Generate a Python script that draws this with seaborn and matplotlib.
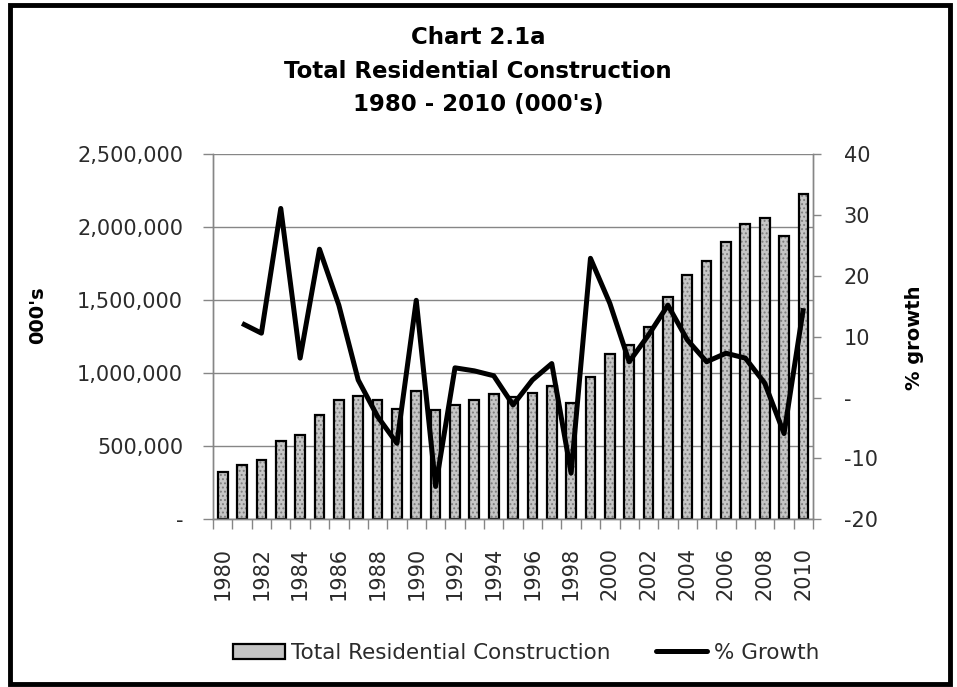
import numpy as np
import pandas as pd
import matplotlib
matplotlib.use("Agg")
import matplotlib.pyplot as plt
import seaborn as sns
from matplotlib.ticker import FuncFormatter, FixedLocator
from matplotlib.patches import Patch, Rectangle
from matplotlib.lines import Line2D

# ---------------- data ----------------
years = [1980, 1981, 1982, 1983, 1984, 1985, 1986, 1987, 1988, 1989,
         1990, 1991, 1992, 1993, 1994, 1995, 1996, 1997, 1998, 1999,
         2000, 2001, 2002, 2003, 2004, 2005, 2006, 2007, 2008, 2009, 2010]
construction = [326000, 372000, 406000, 538000, 575000, 712000, 819000, 847000,
                819000, 758000, 881000, 749000, 783000, 819000, 856000, 838000,
                863000, 915000, 799000, 977000, 1134000, 1194000, 1317000,
                1523000, 1671000, 1767000, 1897000, 2020000, 2066000, 1943000,
                2226000]
growth = [np.nan, 12.2, 10.6, 31.1, 6.5, 24.4, 15.2, 2.9, -3.1, -7.5, 16.0,
          -14.6, 4.9, 4.4, 3.6, -1.2, 2.9, 5.6, -12.4, 22.9, 15.5, 5.9, 10.3,
          15.2, 9.5, 5.9, 7.3, 6.5, 2.4, -5.9, 14.7]
left_ticks = [0, 500000, 1000000, 1500000, 2000000, 2500000]
right_ticks = [-20, -10, 0, 10, 20, 30, 40]
title_lines = ["Chart 2.1a", "Total Residential Construction", "1980 - 2010 (000's)"]
bar_label = "Total Residential Construction"
line_label = "% Growth"

df = pd.DataFrame({"year": [str(y) for y in years],
                   "construction": construction,
                   "growth": growth})
df["pos"] = np.arange(len(df))

# ---------------- style ----------------
sns.set_theme(style="white")
plt.rcParams["font.family"] = ["DejaVu Sans"]
plt.rcParams["hatch.linewidth"] = 0.9
GRID = "#868686"
TXT = "#2b2b2b"

fig = plt.figure(figsize=(9.57, 6.87), dpi=100)
fig.patch.set_facecolor("white")
ax = fig.add_axes([0.2226, 0.2441, 0.6270, 0.5313])

# bars: textured grey fill, then black outline
sns.barplot(data=df, x="year", y="construction", ax=ax, color="#c6c6c6",
            width=0.5, edgecolor="#7d7d7d", linewidth=0, hatch="....",
            saturation=1, errorbar=None)
sns.barplot(data=df, x="year", y="construction", ax=ax, color="black",
            width=0.5, fill=False, linewidth=1.6, errorbar=None)

ax.set_xlim(-0.5, len(years) - 0.5)
ax.set_ylim(0, 2500000)
ax.yaxis.set_major_locator(FixedLocator(left_ticks))
ax.yaxis.set_major_formatter(FuncFormatter(lambda v, p: "-" if v == 0 else f"{v:,.0f}"))
ax.grid(axis="y", color=GRID, linewidth=1)
ax.set_axisbelow(True)

# x axis: labels every 2 years, ticks between categories
ax.set_xticks(df["pos"][::2])
ax.set_xticklabels(df["year"][::2], rotation=90)
ax.set_xticks(np.arange(-0.5, len(years), 1.0), minor=True)
ax.tick_params(axis="x", which="major", length=0, pad=20, labelsize=15, labelcolor=TXT)
ax.tick_params(axis="x", which="minor", length=7, width=1, color=GRID, direction="out", bottom=True)
ax.tick_params(axis="y", which="major", length=7.5, width=1, color=GRID, direction="out",
               pad=14, labelsize=15, labelcolor=TXT, left=True)
ax.set_xlabel("")
ax.set_ylabel("")
for s in ["left", "bottom", "right"]:
    ax.spines[s].set_color(GRID)
    ax.spines[s].set_linewidth(1)
ax.spines["top"].set_visible(False)

# line on secondary axis
ax2 = ax.twinx()
sns.lineplot(data=df, x="pos", y="growth", ax=ax2, color="black", linewidth=3.6,
             solid_joinstyle="round", solid_capstyle="butt", legend=False)
ax2.set_ylim(-20, 40)
ax2.yaxis.set_major_locator(FixedLocator(right_ticks))
ax2.yaxis.set_major_formatter(FuncFormatter(lambda v, p: "-" if v == 0 else f"{v:.0f}"))
ax2.tick_params(axis="y", which="major", length=6, width=1, color=GRID, direction="out",
                pad=16, labelsize=15, labelcolor=TXT, right=True)
ax2.set_xlim(-0.5, len(years) - 0.5)
ax2.set_ylabel("")
ax2.set_xlabel("")
for s in ["left", "bottom", "right"]:
    ax2.spines[s].set_color(GRID)
    ax2.spines[s].set_linewidth(1)
ax2.spines["top"].set_visible(False)
ax2.grid(False)

# axis titles
fig.text(38 / 957, 1 - 315 / 687, "000's", rotation=90, ha="center", va="center",
         fontsize=14, fontweight="bold", color="black")
fig.text(914 / 957, 1 - 338 / 687, "% growth", rotation=90, ha="center", va="center",
         fontsize=14, fontweight="bold", color="black")

# title
for line, yc in zip(title_lines, [37, 71, 105]):
    fig.text(478 / 957, 1 - yc / 687, line, ha="center", va="center",
             fontsize=16.5, fontweight="bold", color="black")

# legend
handles = [Patch(facecolor="#c4c4c4", edgecolor="black", linewidth=1.6),
           Line2D([0], [0], color="black", linewidth=3.6)]
fig.legend(handles, [bar_label, line_label], loc="center",
           bbox_to_anchor=(526 / 957, 1 - 653 / 687), ncol=2, frameon=False,
           fontsize=15.5, handlelength=2.4, handleheight=0.7, handletextpad=0.3,
           columnspacing=2.1, labelcolor=TXT)

# outer chart border
fig.add_artist(Rectangle((10 / 957, 3 / 687), 940 / 957, 679 / 687,
                         transform=fig.transFigure, fill=False,
                         edgecolor="black", linewidth=3.5))

fig.savefig("out.png", dpi=100, facecolor="white")
